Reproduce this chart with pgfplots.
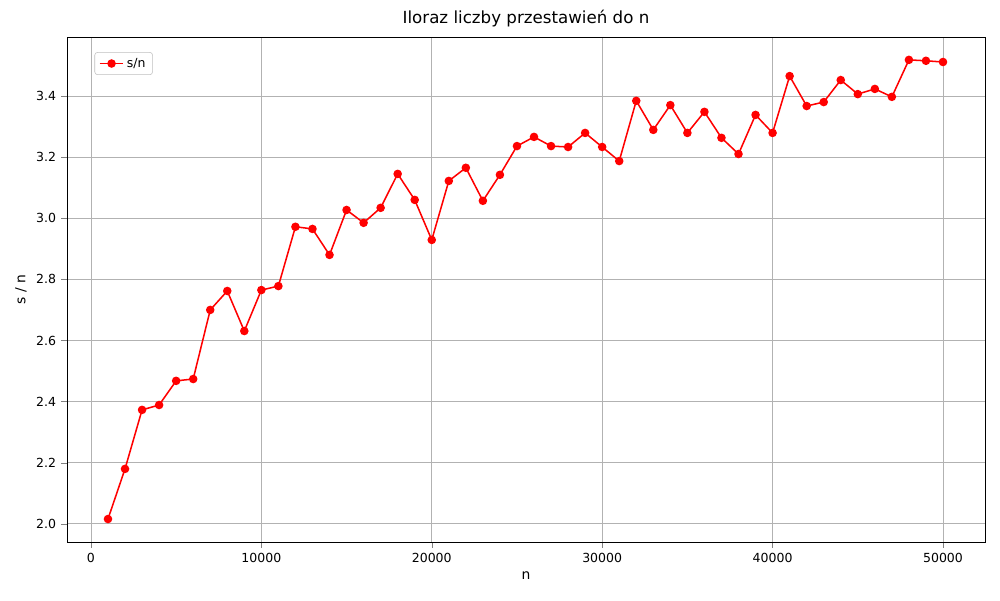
\documentclass[border=0pt]{standalone}
\usepackage{pgfplots}
\pgfplotsset{compat=1.18}
\usepackage{fontspec}
\setmainfont{DejaVu Sans}
\begin{document}
\begin{tikzpicture}
\path[use as bounding box] (-48.2pt,-41.8pt) rectangle (671.8pt,390.2pt);
\begin{axis}[
  at={(0,0)}, anchor=south west,
  scale only axis, width=661pt, height=363.6pt,
  xmin=-1408, xmax=52465, ymin=1.941, ymax=3.593,
  xtick={0,10000,...,50000}, ytick={2.0,2.2,...,3.41},
  scaled x ticks=false,
  xticklabel style={/pgf/number format/.cd,fixed,1000 sep={}},
  yticklabel style={/pgf/number format/.cd,fixed,fixed zerofill,precision=1},
  /pgf/number format/assume math mode=true,
  tick label style={font=\small},
  grid=major, grid style={gray!60, line width=0.6pt},
  tick align=outside, tick pos=left,
  xlabel={n}, ylabel={s / n},
  title={Iloraz liczby przestawień do n},
  title style={font=\large, yshift=-2pt},
  legend pos=north west,
  legend style={font=\small, draw=gray!50, rounded corners=2pt},
  legend cell align=left,
]
\addplot[red, line width=1.1pt, mark=*, mark size=2.5pt, mark options={fill=red}] coordinates {
(1000,2.016)(2000,2.18)(3000,2.373)(4000,2.389)(5000,2.468)(6000,2.474)(7000,2.70)(8000,2.762)(9000,2.631)(10000,2.765)
(11000,2.778)(12000,2.972)(13000,2.965)(14000,2.88)(15000,3.027)(16000,2.985)(17000,3.034)(18000,3.145)(19000,3.06)(20000,2.929)
(21000,3.122)(22000,3.165)(23000,3.057)(24000,3.142)(25000,3.236)(26000,3.266)(27000,3.236)(28000,3.233)(29000,3.279)(30000,3.233)
(31000,3.187)(32000,3.384)(33000,3.289)(34000,3.37)(35000,3.279)(36000,3.348)(37000,3.263)(38000,3.21)(39000,3.338)(40000,3.279)
(41000,3.465)(42000,3.367)(43000,3.38)(44000,3.452)(45000,3.406)(46000,3.423)(47000,3.397)(48000,3.518)(49000,3.515)(50000,3.511)
};
\addlegendentry{s/n}
\end{axis}
\end{tikzpicture}
\end{document}
